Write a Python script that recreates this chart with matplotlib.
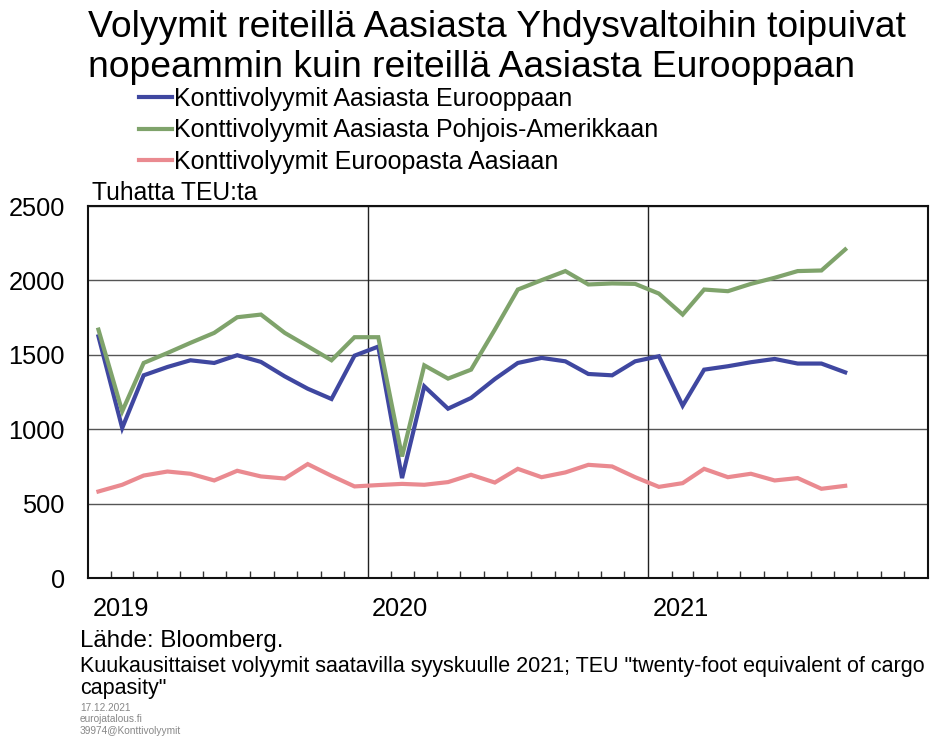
import matplotlib
matplotlib.use("Agg")
import matplotlib.pyplot as plt
import matplotlib.dates as mdates
import numpy as np
import pandas as pd

plt.rcParams['font.family'] = ['Liberation Sans', 'DejaVu Sans']

# ---- data (thousand TEU, monthly Jan 2019 - Sep 2021) ----
months = pd.date_range("2019-01-01", "2021-09-01", freq="MS")
asia_europe = [1625, 1009, 1363, 1419, 1464, 1446, 1498, 1453, 1356, 1273, 1204, 1495,
               1556, 673, 1289, 1139, 1211, 1338, 1446, 1480, 1457, 1372, 1363, 1457,
               1491, 1159, 1401, 1424, 1451, 1473, 1442, 1442, 1383]
asia_namerica = [1670, 1121, 1446, 1513, 1581, 1648, 1753, 1771, 1648, 1558, 1464, 1619,
                 1619, 818, 1430, 1341, 1401, 1670, 1939, 2002, 2063, 1973, 1980, 1977,
                 1912, 1771, 1939, 1928, 1977, 2018, 2063, 2067, 2208]
europe_asia = [583, 628, 690, 717, 702, 657, 722, 684, 670, 767, 688, 617,
               626, 634, 628, 646, 695, 643, 735, 679, 711, 762, 751, 679,
               614, 639, 735, 679, 702, 657, 673, 601, 621]
series_labels = ["Konttivolyymit Aasiasta Eurooppaan",
                 "Konttivolyymit Aasiasta Pohjois-Amerikkaan",
                 "Konttivolyymit Euroopasta Aasiaan"]
series_colors = ["#3F47A0", "#7FA36B", "#EA8A90"]
year_labels = ["2019", "2020", "2021"]
y_ticks = [0, 500, 1000, 1500, 2000, 2500]

title_lines = ["Volyymit reiteillä Aasiasta Yhdysvaltoihin toipuivat",
               "nopeammin kuin reiteillä Aasiasta Eurooppaan"]

fig = plt.figure(figsize=(9.34, 7.39), dpi=100)
W, H = 934, 739
ax = fig.add_axes([87.7 / W, 1 - 578.3 / H, (928 - 87.7) / W, (578.3 - 206) / H])

x = months + pd.Timedelta(days=14)
handles = []
for vals, lab, col in zip([asia_europe, asia_namerica, europe_asia], series_labels, series_colors):
    h, = ax.plot(x, vals, color=col, lw=3.0, solid_joinstyle='miter', label=lab, zorder=3)
    handles.append(h)

ax.set_xlim(pd.Timestamp("2019-01-01"), pd.Timestamp("2022-01-01"))
ax.set_ylim(0, 2500)
ax.set_yticks(y_ticks)
ax.tick_params(axis='y', length=0, labelsize=18.3, pad=16.5)
ax.yaxis.grid(True, color='#555555', lw=1.0)
ax.set_axisbelow(True)

ax.xaxis.set_major_locator(mdates.YearLocator())
ax.xaxis.set_minor_locator(mdates.MonthLocator())
ax.set_xticklabels([])
ax.tick_params(axis='x', which='major', length=0)
ax.tick_params(axis='x', which='minor', direction='in', length=5, width=1, color='#333333')
for yr in year_labels[1:]:
    ax.axvline(pd.Timestamp(f"{yr}-01-01"), color='#222222', lw=1.0, zorder=1)
for yr in year_labels:
    ax.text(pd.Timestamp(f"{yr}-01-01") + pd.Timedelta(days=6), -253, yr,
            ha='left', va='baseline', fontsize=18.3, transform=ax.transData, clip_on=False)
for s in ax.spines.values():
    s.set_color('#111111')
    s.set_linewidth(1.5)

fig.text(88 / W, 1 - 37 / H, title_lines[0], ha='left', va='baseline', fontsize=26.8)
fig.text(88 / W, 1 - 77 / H, title_lines[1], ha='left', va='baseline', fontsize=26.8)
leg = fig.legend(handles=handles, loc='upper left', bbox_to_anchor=(139 / W, 1 - 87 / H),
                 frameon=False, fontsize=18, handlelength=1.32, handletextpad=0.08,
                 labelspacing=0.29, borderaxespad=0, borderpad=0)
fig.text(92 / W, 1 - 200 / H, "Tuhatta TEU:ta", ha='left', va='baseline', fontsize=17.7)

fig.text(80 / W, 1 - 647 / H, "Lähde: Bloomberg.", ha='left', va='baseline', fontsize=17.4)
fig.text(80 / W, 1 - 672 / H,
         'Kuukausittaiset volyymit saatavilla syyskuulle 2021; TEU "twenty-foot equivalent of cargo',
         ha='left', va='baseline', fontsize=15.5)
fig.text(80 / W, 1 - 694 / H, 'capasity"', ha='left', va='baseline', fontsize=15.5)
for i, t in enumerate(["17.12.2021", "eurojatalous.fi", "39974@Konttivolyymit"]):
    fig.text(80 / W, 1 - (711 + 11.5 * i) / H, t, ha='left', va='baseline', fontsize=7.3, color='#888888')

fig.savefig("out.png", dpi=100)
